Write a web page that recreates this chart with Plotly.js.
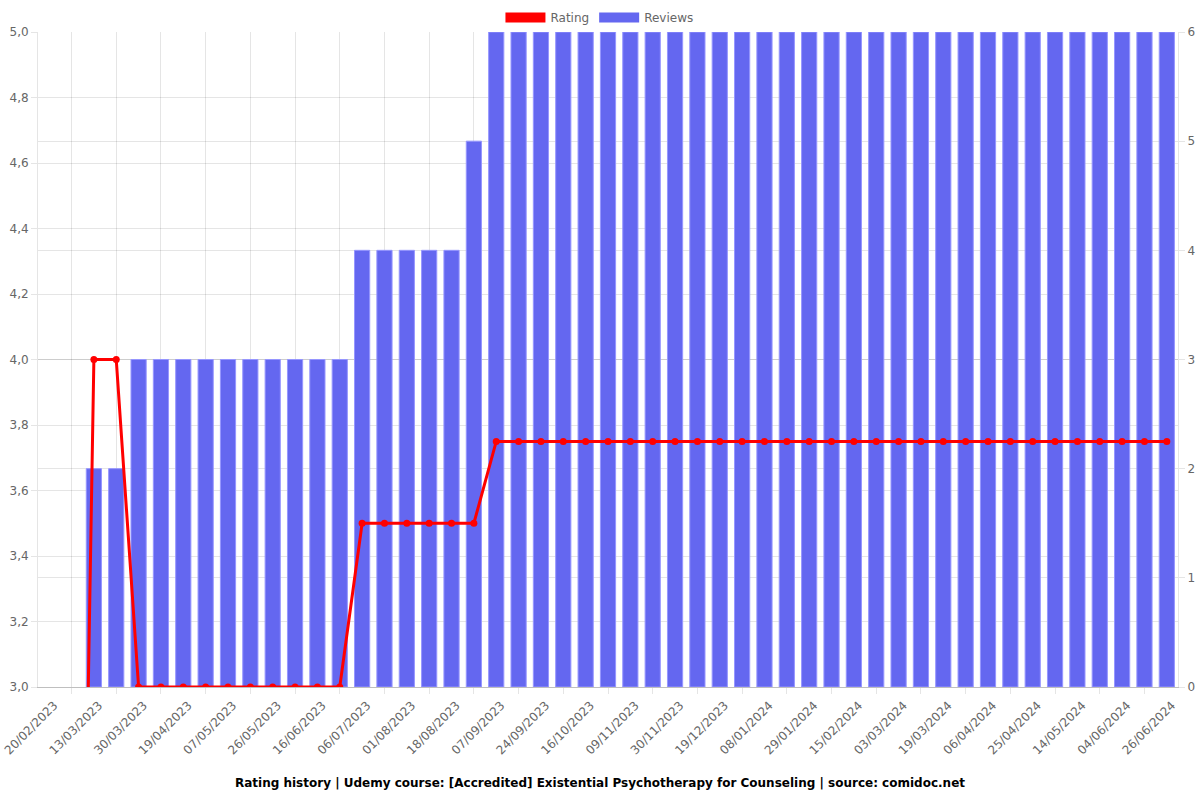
<!DOCTYPE html>
<html>
<head>
<meta charset="utf-8">
<script src="https://cdn.plot.ly/plotly-3.0.1.min.js"></script>
<style>
html,body{margin:0;padding:0;background:#fff;}
#chart{width:1200px;height:800px;}
</style>
</head>
<body>
<div id="chart"></div>
<script>
// Tick labels (shown on every second period)
const dateLabels = [
  "20/02/2023","13/03/2023","30/03/2023","19/04/2023","07/05/2023","26/05/2023",
  "16/06/2023","06/07/2023","01/08/2023","18/08/2023","07/09/2023","24/09/2023",
  "16/10/2023","09/11/2023","30/11/2023","19/12/2023","08/01/2024","29/01/2024",
  "15/02/2024","03/03/2024","19/03/2024","06/04/2024","25/04/2024","14/05/2024",
  "04/06/2024","26/06/2024"
];

// Reviews count per period (51 periods)
const reviews = [
  null, null, 2, 2,
  3, 3, 3, 3, 3, 3, 3, 3, 3, 3,
  4, 4, 4, 4, 4,
  5,
  6, 6, 6, 6, 6, 6, 6, 6, 6, 6,
  6, 6, 6, 6, 6, 6, 6, 6, 6, 6,
  6, 6, 6, 6, 6, 6, 6, 6, 6, 6, 6
];

// Rating per period (51 periods)
const rating = [
  0, 0, 4.0, 4.0,
  3.0, 3.0, 3.0, 3.0, 3.0, 3.0, 3.0, 3.0, 3.0, 3.0,
  3.5, 3.5, 3.5, 3.5, 3.5, 3.5,
  3.75, 3.75, 3.75, 3.75, 3.75, 3.75, 3.75, 3.75, 3.75, 3.75,
  3.75, 3.75, 3.75, 3.75, 3.75, 3.75, 3.75, 3.75, 3.75, 3.75,
  3.75, 3.75, 3.75, 3.75, 3.75, 3.75, 3.75, 3.75, 3.75, 3.75, 3.75
];

const titleText = "Rating history | Udemy course: [Accredited] Existential Psychotherapy for Counseling | source: comidoc.net";

const idx = reviews.map((_, i) => i);
const labelPos = dateLabels.map((_, i) => i * 2);
const gridPos = idx.filter(i => i % 2 === 1);
const xRange = [-0.5, reviews.length - 0.5];

const RED = "#ff0000";
const BLUE = "rgb(100,103,240)";
const GRID = "rgba(0,0,0,0.1)";
const FONT = "DejaVu Sans, Verdana, sans-serif";

const traces = [
  {
    type: "bar", name: "Reviews", x: idx, y: reviews,
    xaxis: "x", yaxis: "y",
    width: 0.68,
    marker: {color: BLUE, line: {color: "rgba(150,150,255,1)", width: 1}},
    showlegend: false, hoverinfo: "y"
  },
  {
    type: "scatter", mode: "lines+markers", name: "Rating", x: idx, y: rating,
    xaxis: "x", yaxis: "y2",
    line: {color: RED, width: 3},
    marker: {color: RED, size: 7},
    showlegend: false, hoverinfo: "y"
  },
  // legend-only entries (box-like swatches)
  {
    type: "scatter", mode: "lines", name: "Rating", x: [null], y: [null],
    xaxis: "x2", yaxis: "y",
    line: {color: RED, width: 15}, hoverinfo: "skip"
  },
  {
    type: "scatter", mode: "lines", name: "Reviews", x: [null], y: [null],
    xaxis: "x2", yaxis: "y",
    line: {color: BLUE, width: 15}, hoverinfo: "skip"
  }
];

const layout = {
  width: 1200, height: 800,
  paper_bgcolor: "#fff", plot_bgcolor: "#fff",
  margin: {l: 38, r: 22, t: 32, b: 113, autoexpand: false},
  separators: ",.",
  font: {family: FONT, size: 12, color: "#666"},
  barmode: "overlay",
  showlegend: true,
  legend: {
    orientation: "h", x: 0.4925, xanchor: "center", y: 1.0, yanchor: "bottom",
    font: {family: FONT, size: 12, color: "#666"},
    traceorder: "normal", itemclick: false, itemwidth: 40
  },
  title: {
    text: "<b>" + titleText + "</b>",
    font: {family: FONT, size: 12, color: "#000"},
    x: 0.5, xanchor: "center", y: 0.021, yanchor: "middle"
  },
  xaxis: {
    range: xRange, tickmode: "array", tickvals: gridPos,
    showticklabels: false,
    showgrid: true, gridcolor: GRID, gridwidth: 1,
    ticks: "outside", ticklen: 6, tickcolor: GRID,
    showline: true, linecolor: "rgba(0,0,0,0.25)", linewidth: 1,
    zeroline: false, fixedrange: true
  },
  xaxis2: {
    overlaying: "x", anchor: "y", side: "bottom",
    range: xRange, tickmode: "array", tickvals: labelPos, ticktext: dateLabels,
    tickangle: -45, showgrid: false, ticks: "", zeroline: false, showline: false,
    ticklabeloverflow: "allow", ticklabelstandoff: 8, ticklabelshift: 5,
    tickfont: {family: FONT, size: 12, color: "#666"}, fixedrange: true
  },
  yaxis: {
    side: "right", range: [0, 6], tickmode: "linear", tick0: 0, dtick: 1,
    showgrid: true, gridcolor: GRID,
    ticks: "outside", ticklen: 6, tickcolor: GRID,
    showline: true, linecolor: GRID, zeroline: false, fixedrange: true
  },
  yaxis2: {
    overlaying: "y", side: "left", range: [3, 5],
    tickmode: "linear", tick0: 3, dtick: 0.2, tickformat: ".1f",
    showgrid: true, gridcolor: GRID,
    ticks: "outside", ticklen: 6, tickcolor: GRID,
    showline: true, linecolor: GRID, zeroline: false, fixedrange: true
  }
};

Plotly.newPlot("chart", traces, layout, {displayModeBar: false, staticPlot: true});
</script>
</body>
</html>
